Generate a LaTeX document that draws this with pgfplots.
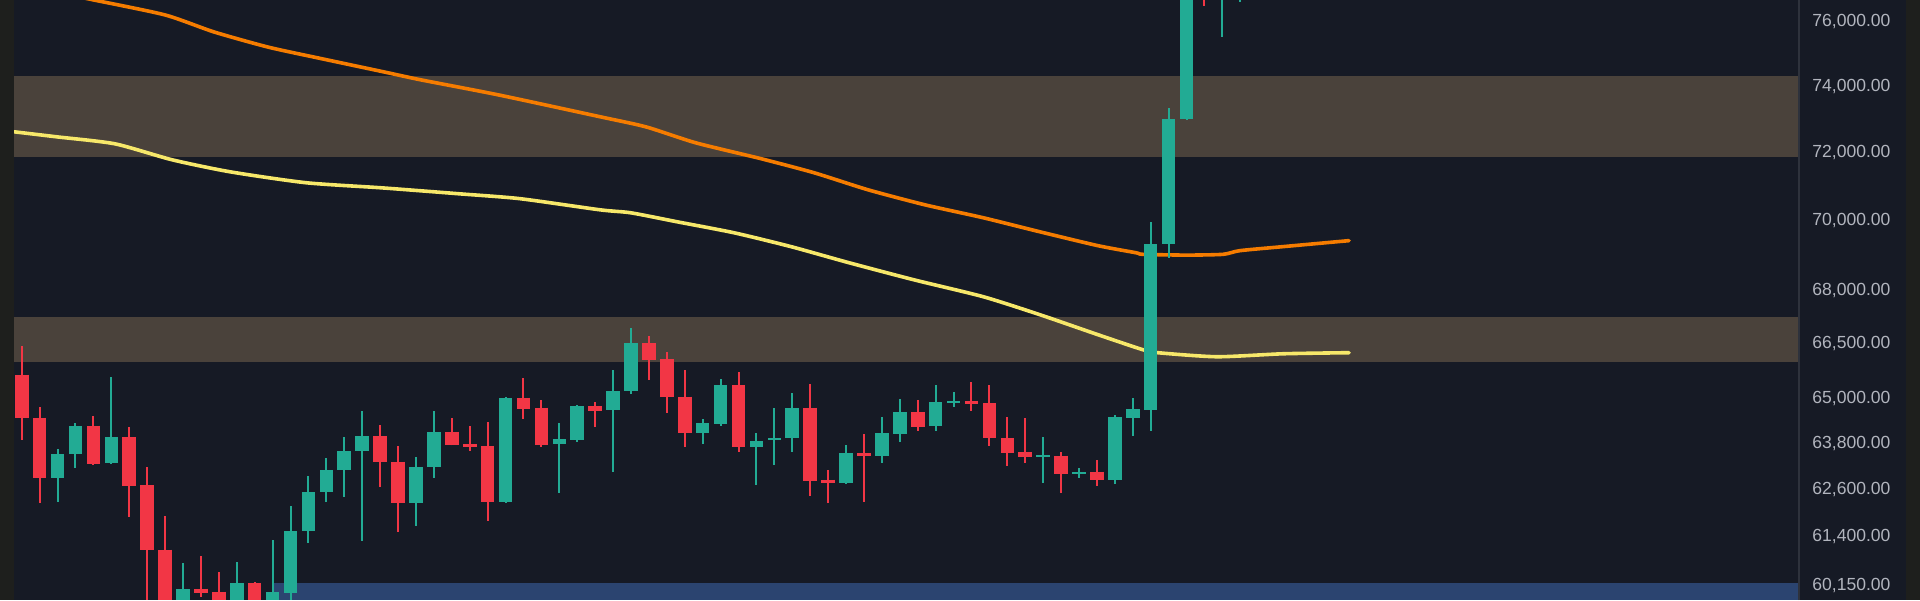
\documentclass[border=0pt]{standalone}
\usepackage{pgfplots}
\pgfplotsset{compat=1.18}
\usepackage{fontspec}
\setmainfont{Liberation Sans}

\definecolor{bg}{HTML}{161A25}
\definecolor{edge}{HTML}{1E1F1D}
\definecolor{sepline}{HTML}{2E323C}
\definecolor{band}{HTML}{4A423B}
\definecolor{zone}{HTML}{2B4470}
\definecolor{bull}{HTML}{22AB94}
\definecolor{bear}{HTML}{F23645}
\definecolor{maslow}{HTML}{F57C00}
\definecolor{mafast}{HTML}{F7E86A}
\definecolor{axtext}{HTML}{B2B5BE}

% \candle{index}{open}{high}{low}{close}
\newcommand{\candle}[5]{%
  \ifnum#5<#2\relax\def\cc{bear}\else\def\cc{bull}\fi
  \edef\temp{%
    \noexpand\addplot[\cc, line width=1bp, forget plot] coordinates {(#1,#4) (#1,#3)};
    \noexpand\addplot[\cc, line width=6.8bp, forget plot] coordinates {(#1,#2) (#1,#5)};}%
  \temp}

\begin{document}
\begin{tikzpicture}[x=1bp,y=1bp]
\fill[edge] (0,0) rectangle (960,300);
\fill[bg] (7,0) rectangle (953,300);
\begin{axis}[
  at={(7bp,0bp)}, anchor=south west,
  scale only axis, width=892.5bp, height=300bp,
  ymode=log,
  xmin=-0.43, xmax=99.18,
  ymin=59775, ymax=76665,
  axis line style={draw=none},
  xtick=\empty,
  ytick={60150,61400,62600,63800,65000,66500,68000,70000,72000,74000,76000},
  yticklabels={{60,150.00},{61,400.00},{62,600.00},{63,800.00},{65,000.00},{66,500.00},{68,000.00},{70,000.00},{72,000.00},{74,000.00},{76,000.00}},
  yticklabel pos=right,
  major tick length=0pt,
  yminorticks=false, xminorticks=false,
  yticklabel style={anchor=west, inner sep=0pt, xshift=6.5bp, text depth=0pt,
    font=\fontsize{8.8}{10}\selectfont, text=axtext},
]

% zones
\addplot[fill=band, draw=none, forget plot] coordinates {(-2,71832) (110,71832) (110,74286) (-2,74286)};
\addplot[fill=band, draw=none, forget plot] coordinates {(-2,65977) (110,65977) (110,67222) (-2,67222)};
\addplot[fill=zone, draw=none, forget plot] coordinates {(14,59000) (110,59000) (110,60198) (14,60198)};

% moving averages
\addplot[maslow, line width=1.8bp, line join=round, line cap=round, smooth, tension=0.4] coordinates {
  (-0.43,77180) (3.93,76665) (8.0,76190) (10.73,75654) (13.75,75185)
  (16.54,74843) (20.16,74409) (22.28,74163) (26.58,73703) (32.27,73034)
  (34.84,72732) (37.63,72250) (41.26,71772) (44.22,71357) (47.23,70855)
  (50.41,70416) (53.65,70037) (56.83,69631) (60.06,69229) (62.18,69028)
  (62.57,68985) (65,68960) (67.04,68985) (67.98,69085) (70.38,69200)
  (74.07,69373)
};
\addplot[mafast, line width=1.8bp, line join=round, line cap=round, smooth, tension=0.4] coordinates {
  (-0.43,72581) (1.97,72430) (5.21,72220) (8.39,71742) (11.63,71386)
  (15.87,71062) (20.16,70914) (24.4,70738) (27.8,70591) (32.27,70270)
  (34.0,70183) (36.57,69921) (39.75,69603) (42.93,69200) (46.17,68743)
  (49.8,68259) (53.65,67779) (56.83,67276) (60.06,66720) (62.57,66306)
  (63.4,66223) (66.7,66113) (70.4,66196) (74.07,66223)
};

% candles
\candle{0}{65622}{66416}{63876}{64462}
\candle{1}{64462}{64757}{62229}{62877}
\candle{2}{62877}{63638}{62254}{63507}
\candle{3}{63507}{64328}{63138}{64248}
\candle{4}{64248}{64515}{63217}{63244}
\candle{5}{63270}{65568}{63240}{63956}
\candle{6}{63956}{64222}{61869}{62669}
\candle{7}{62695}{63165}{59400}{61027}
\candle{8}{61027}{61895}{59300}{59500}
\candle{9}{59600}{60699}{59300}{60048}
\candle{10}{60048}{60876}{59850}{59948}
\candle{11}{59973}{60473}{59300}{59500}
\candle{12}{59600}{60725}{59300}{60198}
\candle{13}{60198}{60220}{59300}{59500}
\candle{14}{59600}{61281}{59300}{59973}
\candle{15}{59948}{62151}{59600}{61510}
\candle{16}{61510}{62929}{61205}{62513}
\candle{17}{62513}{63402}{62254}{63086}
\candle{18}{63086}{63956}{62384}{63586}
\candle{19}{63586}{64649}{61256}{63982}
\candle{20}{63982}{64275}{62643}{63296}
\candle{21}{63296}{63718}{61485}{62229}
\candle{22}{62229}{63428}{61638}{63165}
\candle{23}{63165}{64649}{62877}{64089}
\candle{24}{64089}{64462}{63730}{63744}
\candle{25}{63770}{64248}{63586}{63691}
\candle{26}{63718}{64355}{61766}{62254}
\candle{27}{62254}{65026}{62229}{64999}
\candle{28}{64999}{65540}{64435}{64703}
\candle{29}{64730}{64945}{63691}{63744}
\candle{30}{63770}{64328}{62487}{63903}
\candle{31}{63876}{64810}{63823}{64783}
\candle{32}{64783}{64891}{64222}{64649}
\candle{33}{64676}{65758}{63034}{65188}
\candle{34}{65188}{66914}{65107}{66499}
\candle{35}{66499}{66692}{65486}{66031}
\candle{36}{66058}{66251}{64596}{65026}
\candle{37}{65026}{65758}{63691}{64062}
\candle{38}{64062}{64435}{63770}{64328}
\candle{39}{64302}{65513}{64248}{65350}
\candle{40}{65350}{65704}{63560}{63691}
\candle{41}{63691}{64062}{62695}{63850}
\candle{42}{63876}{64730}{63217}{63929}
\candle{43}{63929}{65134}{63560}{64730}
\candle{44}{64730}{65377}{62410}{62799}
\candle{45}{62825}{63086}{62229}{62747}
\candle{46}{62747}{63744}{62721}{63533}
\candle{47}{63533}{64036}{62254}{63454}
\candle{48}{63454}{64488}{63270}{64062}
\candle{49}{64036}{64972}{63823}{64622}
\candle{50}{64622}{64945}{64115}{64222}
\candle{51}{64248}{65350}{64115}{64891}
\candle{52}{64864}{65161}{64757}{64918}
\candle{53}{64918}{65432}{64649}{64837}
\candle{54}{64864}{65350}{63718}{63929}
\candle{55}{63929}{64488}{63191}{63533}
\candle{56}{63560}{64462}{63270}{63428}
\candle{57}{63428}{63956}{62747}{63481}
\candle{58}{63454}{63560}{62487}{62982}
\candle{59}{62982}{63138}{62877}{63034}
\candle{60}{63034}{63349}{62669}{62825}
\candle{61}{62825}{64542}{62721}{64488}
\candle{62}{64462}{64999}{63982}{64703}
\candle{63}{64676}{69921}{64115}{69286}
\candle{64}{69286}{73307}{68885}{72973}
\candle{65}{72973}{77300}{72950}{77100}
\candle{66}{77400}{77600}{76475}{77000}
\candle{67}{76800}{78000}{75497}{77700}
\candle{68}{77600}{78200}{76600}{77900}

\end{axis}
\draw[sepline, line width=0.7bp] (899.5,0) -- (899.5,300);
\pgfresetboundingbox
\useasboundingbox (0,0) rectangle (960,300);
\end{tikzpicture}
\end{document}
